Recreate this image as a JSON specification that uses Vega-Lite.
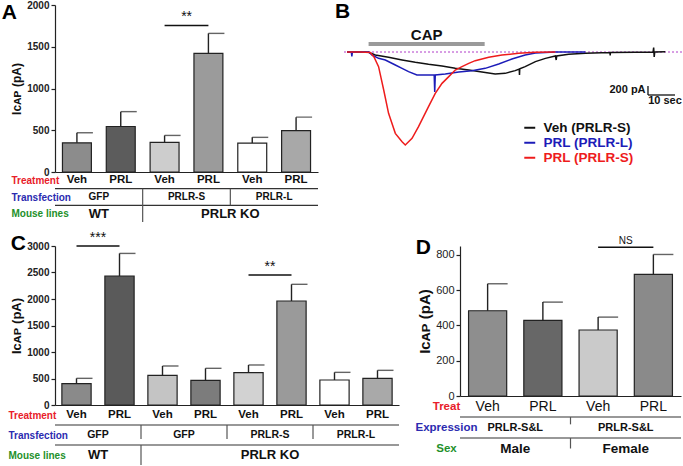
{
  "$schema": "https://vega.github.io/schema/vega-lite/v6.json",
  "background": "white",
  "padding": {"left": 1, "top": 0, "right": 0, "bottom": 0},
  "config": {
    "view": {"stroke": null},
    "font": "Liberation Sans",
    "axis": {"grid": false, "domainColor": "#222", "tickColor": "#222", "labelColor": "#222", "titleColor": "#111", "labelFontWeight": "bold", "labelFontSize": 10, "titleFontWeight": "bold", "domainWidth": 1.2, "tickWidth": 1.2, "labelOverlap": false},
    "title": {"font": "Liberation Sans", "fontWeight": "bold", "fontSize": 21, "color": "#000"}
  },
  "resolve": {"scale": {"color": "independent"}, "legend": {"color": "independent"}},
  "spacing": 8,
  "vconcat": [
    {
      "spacing": 16,
      "resolve": {"scale": {"color": "independent"}, "legend": {"color": "independent"}},
      "hconcat": [
        {
          "bounds": "flush",
          "spacing": 0,
          "resolve": {"scale": {"color": "independent"}},
          "vconcat": [
            {
              "width": 263,
              "height": 167,
              "title": {"text": "A", "anchor": "start", "frame": "bounds", "offset": -23, "dx": -9},
              "layer": [
                {
                  "data": {"values": [
                    {"key": "A1", "mean": 350, "upper": 470},
                    {"key": "A2", "mean": 545, "upper": 723},
                    {"key": "A3", "mean": 355, "upper": 438},
                    {"key": "A4", "mean": 1420, "upper": 1660},
                    {"key": "A5", "mean": 347, "upper": 415},
                    {"key": "A6", "mean": 495, "upper": 657}
                  ]},
                  "layer": [
                    {
                      "mark": {"type": "bar", "stroke": "#222", "strokeWidth": 1.2},
                      "encoding": {
                        "x": {"field": "key", "type": "nominal", "sort": null, "scale": {"domain": ["A1", "A2", "A3", "A4", "A5", "A6"], "paddingInner": 0.34, "paddingOuter": 0.17}, "axis": {"labels": false, "ticks": false, "title": null}},
                        "y": {"field": "mean", "type": "quantitative", "scale": {"domain": [0, 2000], "nice": false}, "axis": {"values": [0, 500, 1000, 1500, 2000], "tickCount": 20, "format": "d", "title": "Iᴄᴀᴘ (pA)", "titleFontSize": 12, "tickSize": 4, "labelPadding": 2, "titlePadding": 3}},
                        "color": {"field": "key", "type": "nominal", "scale": {"domain": ["A1", "A2", "A3", "A4", "A5", "A6"], "range": ["#8c8c8c", "#5c5c5c", "#cdcdcd", "#9b9b9b", "#ffffff", "#a8a8a8"]}, "legend": null}
                      }
                    },
                    {
                      "mark": {"type": "rule", "color": "#222", "strokeWidth": 1.4},
                      "encoding": {"x": {"field": "key", "type": "nominal", "sort": null}, "y": {"field": "mean", "type": "quantitative"}, "y2": {"field": "upper"}}
                    },
                    {
                      "mark": {"type": "tick", "color": "#222", "thickness": 1.4, "size": 16, "xOffset": 8},
                      "encoding": {"x": {"field": "key", "type": "nominal", "sort": null}, "y": {"field": "upper", "type": "quantitative"}}
                    }
                  ]
                },
                {
                  "data": {"values": [{"a": "A3", "b": "A4", "y": 1755, "label": "**"}]},
                  "layer": [
                    {"mark": {"type": "rule", "color": "#111", "strokeWidth": 1.6}, "encoding": {"x": {"field": "a", "type": "nominal"}, "x2": {"field": "b"}, "y": {"field": "y", "type": "quantitative"}}},
                    {"mark": {"type": "text", "baseline": "bottom", "dy": -1, "dx": 22, "fontSize": 14, "color": "#111"}, "encoding": {"x": {"field": "a", "type": "nominal"}, "y": {"field": "y", "type": "quantitative"}, "text": {"field": "label"}}}
                  ]
                }
              ]
            },
            {
              "width": 263,
              "height": 50,
              "layer": [
                {
                  "data": {"values": [
                    {"level": "Treatment", "col": 0.5, "row": 0.5, "label": "Veh"},
                    {"level": "Treatment", "col": 1.5, "row": 0.5, "label": "PRL"},
                    {"level": "Treatment", "col": 2.5, "row": 0.5, "label": "Veh"},
                    {"level": "Treatment", "col": 3.5, "row": 0.5, "label": "PRL"},
                    {"level": "Treatment", "col": 4.5, "row": 0.5, "label": "Veh"},
                    {"level": "Treatment", "col": 5.5, "row": 0.5, "label": "PRL"},
                    {"level": "Transfection", "col": 1, "row": 1.5, "label": "GFP"},
                    {"level": "Transfection", "col": 3, "row": 1.5, "label": "PRLR-S"},
                    {"level": "Transfection", "col": 5, "row": 1.5, "label": "PRLR-L"},
                    {"level": "Mouse lines", "col": 1, "row": 2.5, "label": "WT"},
                    {"level": "Mouse lines", "col": 4, "row": 2.5, "label": "PRLR KO"}
                  ]},
                  "layer": [
                    {
                      "transform": [{"filter": "datum.level == 'Treatment'"}],
                      "mark": {"type": "text", "fontSize": 11.5, "fontWeight": "bold", "color": "#111", "baseline": "middle"},
                      "encoding": {
                        "x": {"field": "col", "type": "quantitative", "scale": {"domain": [0, 6], "nice": false}, "axis": null},
                        "y": {"field": "row", "type": "quantitative", "scale": {"domain": [0, 3], "nice": false, "reverse": true}, "axis": {"values": [0.5, 1.5, 2.5], "tickCount": 20, "labelExpr": "datum.value < 1 ? 'Treatment' : datum.value < 2 ? 'Transfection' : 'Mouse lines'", "domain": false, "ticks": false, "tickSize": 0, "title": null, "labelAlign": "left", "labelBaseline": "middle", "labelPadding": 44, "labelFontSize": 10, "labelBound": false, "labelFlush": false, "labelColor": {"expr": "datum.value < 1 ? '#e8202a' : datum.value < 2 ? '#2b2bb0' : '#23902a'"}}},
                        "text": {"field": "label"}
                      }
                    },
                    {
                      "transform": [{"filter": "datum.level == 'Transfection'"}],
                      "mark": {"type": "text", "fontSize": 10, "fontWeight": "bold", "color": "#111", "baseline": "middle"},
                      "encoding": {"x": {"field": "col", "type": "quantitative"}, "y": {"field": "row", "type": "quantitative"}, "text": {"field": "label"}}
                    },
                    {
                      "transform": [{"filter": "datum.level == 'Mouse lines'"}],
                      "mark": {"type": "text", "fontSize": 13, "fontWeight": "bold", "color": "#111", "baseline": "middle"},
                      "encoding": {"x": {"field": "col", "type": "quantitative"}, "y": {"field": "row", "type": "quantitative"}, "text": {"field": "label"}}
                    }
                  ]
                },
                {
                  "data": {"values": [{"row": 1}, {"row": 2}]},
                  "mark": {"type": "rule", "color": "#333", "strokeWidth": 1.2},
                  "encoding": {"y": {"field": "row", "type": "quantitative"}}
                },
                {
                  "data": {"values": [{"col": 2, "row": 1, "row2": 3}, {"col": 4, "row": 1, "row2": 2}]},
                  "mark": {"type": "rule", "color": "#555", "strokeWidth": 1.2},
                  "encoding": {"x": {"field": "col", "type": "quantitative"}, "y": {"field": "row", "type": "quantitative"}, "y2": {"field": "row2"}}
                }
              ]
            }
          ]
        },
        {
          "width": 340,
          "height": 160,
          "title": {"text": "B", "anchor": "start", "frame": "group", "offset": -17, "dx": -7},
          "layer": [
            {
              "data": {"values": [{"v": 0}]},
              "mark": {"type": "rule", "color": "#b03cc8", "strokeDash": [2, 2], "strokeWidth": 1},
              "encoding": {"y": {"field": "v", "type": "quantitative", "scale": {"domain": [-2260, 940], "nice": false}, "axis": null}}
            },
            {
              "data": {"values": [
                {"series": "Veh (PRLR-S)", "t": 0, "v": 0},
                {"series": "Veh (PRLR-S)", "t": 4, "v": 0},
                {"series": "Veh (PRLR-S)", "t": 8, "v": -5},
                {"series": "Veh (PRLR-S)", "t": 10.5, "v": -60},
                {"series": "Veh (PRLR-S)", "t": 15.4, "v": -107},
                {"series": "Veh (PRLR-S)", "t": 20.4, "v": -160},
                {"series": "Veh (PRLR-S)", "t": 25.3, "v": -207},
                {"series": "Veh (PRLR-S)", "t": 30.2, "v": -247},
                {"series": "Veh (PRLR-S)", "t": 35.2, "v": -280},
                {"series": "Veh (PRLR-S)", "t": 40.1, "v": -327},
                {"series": "Veh (PRLR-S)", "t": 45.1, "v": -360},
                {"series": "Veh (PRLR-S)", "t": 50, "v": -400},
                {"series": "Veh (PRLR-S)", "t": 54.9, "v": -440},
                {"series": "Veh (PRLR-S)", "t": 58.6, "v": -427},
                {"series": "Veh (PRLR-S)", "t": 62.3, "v": -373},
                {"series": "Veh (PRLR-S)", "t": 63.8, "v": -340},
                {"series": "Veh (PRLR-S)", "t": 63.9, "v": -460},
                {"series": "Veh (PRLR-S)", "t": 64.0, "v": -335},
                {"series": "Veh (PRLR-S)", "t": 66, "v": -293},
                {"series": "Veh (PRLR-S)", "t": 69.8, "v": -193},
                {"series": "Veh (PRLR-S)", "t": 73.5, "v": -127},
                {"series": "Veh (PRLR-S)", "t": 77.2, "v": -80},
                {"series": "Veh (PRLR-S)", "t": 77.5, "v": -160},
                {"series": "Veh (PRLR-S)", "t": 77.7, "v": -78},
                {"series": "Veh (PRLR-S)", "t": 82.1, "v": -47},
                {"series": "Veh (PRLR-S)", "t": 88.3, "v": -27},
                {"series": "Veh (PRLR-S)", "t": 94.4, "v": -13},
                {"series": "Veh (PRLR-S)", "t": 97.4, "v": -10},
                {"series": "Veh (PRLR-S)", "t": 97.5, "v": -70},
                {"series": "Veh (PRLR-S)", "t": 97.6, "v": -10},
                {"series": "Veh (PRLR-S)", "t": 106.8, "v": -7},
                {"series": "Veh (PRLR-S)", "t": 113.4, "v": -3},
                {"series": "Veh (PRLR-S)", "t": 113.6, "v": 90},
                {"series": "Veh (PRLR-S)", "t": 113.8, "v": -100},
                {"series": "Veh (PRLR-S)", "t": 114, "v": 0},
                {"series": "Veh (PRLR-S)", "t": 117.9, "v": 7},
                {"series": "PRL (PRLR-L)", "t": 0, "v": 0},
                {"series": "PRL (PRLR-L)", "t": 1.6, "v": 0},
                {"series": "PRL (PRLR-L)", "t": 1.8, "v": -90},
                {"series": "PRL (PRLR-L)", "t": 2.0, "v": 0},
                {"series": "PRL (PRLR-L)", "t": 8, "v": 0},
                {"series": "PRL (PRLR-L)", "t": 9.3, "v": -60},
                {"series": "PRL (PRLR-L)", "t": 11.7, "v": -127},
                {"series": "PRL (PRLR-L)", "t": 14.2, "v": -160},
                {"series": "PRL (PRLR-L)", "t": 17.9, "v": -260},
                {"series": "PRL (PRLR-L)", "t": 20.4, "v": -327},
                {"series": "PRL (PRLR-L)", "t": 22.8, "v": -393},
                {"series": "PRL (PRLR-L)", "t": 25.9, "v": -460},
                {"series": "PRL (PRLR-L)", "t": 29, "v": -460},
                {"series": "PRL (PRLR-L)", "t": 32.3, "v": -460},
                {"series": "PRL (PRLR-L)", "t": 32.5, "v": -800},
                {"series": "PRL (PRLR-L)", "t": 32.7, "v": -460},
                {"series": "PRL (PRLR-L)", "t": 36.4, "v": -440},
                {"series": "PRL (PRLR-L)", "t": 41.4, "v": -400},
                {"series": "PRL (PRLR-L)", "t": 46.3, "v": -373},
                {"series": "PRL (PRLR-L)", "t": 51.2, "v": -327},
                {"series": "PRL (PRLR-L)", "t": 56.2, "v": -240},
                {"series": "PRL (PRLR-L)", "t": 61.1, "v": -140},
                {"series": "PRL (PRLR-L)", "t": 66, "v": -60},
                {"series": "PRL (PRLR-L)", "t": 69.8, "v": -20},
                {"series": "PRL (PRLR-L)", "t": 77.2, "v": 0},
                {"series": "PRL (PRLR-L)", "t": 88.3, "v": 0},
                {"series": "PRL (PRLR-S)", "t": 0, "v": 0},
                {"series": "PRL (PRLR-S)", "t": 5, "v": 0},
                {"series": "PRL (PRLR-S)", "t": 8.6, "v": -10},
                {"series": "PRL (PRLR-S)", "t": 10, "v": -100},
                {"series": "PRL (PRLR-S)", "t": 11.7, "v": -293},
                {"series": "PRL (PRLR-S)", "t": 13.6, "v": -760},
                {"series": "PRL (PRLR-S)", "t": 15.4, "v": -1227},
                {"series": "PRL (PRLR-S)", "t": 17.9, "v": -1627},
                {"series": "PRL (PRLR-S)", "t": 20.4, "v": -1793},
                {"series": "PRL (PRLR-S)", "t": 21.6, "v": -1860},
                {"series": "PRL (PRLR-S)", "t": 24.1, "v": -1727},
                {"series": "PRL (PRLR-S)", "t": 26.5, "v": -1493},
                {"series": "PRL (PRLR-S)", "t": 30.2, "v": -1093},
                {"series": "PRL (PRLR-S)", "t": 32.7, "v": -827},
                {"series": "PRL (PRLR-S)", "t": 35.2, "v": -627},
                {"series": "PRL (PRLR-S)", "t": 37.7, "v": -493},
                {"series": "PRL (PRLR-S)", "t": 40.1, "v": -360},
                {"series": "PRL (PRLR-S)", "t": 42.6, "v": -293},
                {"series": "PRL (PRLR-S)", "t": 45.1, "v": -227},
                {"series": "PRL (PRLR-S)", "t": 47.5, "v": -173},
                {"series": "PRL (PRLR-S)", "t": 52.5, "v": -107},
                {"series": "PRL (PRLR-S)", "t": 57.4, "v": -60},
                {"series": "PRL (PRLR-S)", "t": 63.6, "v": -27},
                {"series": "PRL (PRLR-S)", "t": 69.8, "v": -7},
                {"series": "PRL (PRLR-S)", "t": 77.2, "v": 0}
              ]},
              "mark": {"type": "line", "strokeWidth": 1.5},
              "encoding": {
                "x": {"field": "t", "type": "quantitative", "scale": {"domain": [-1.85, 124.1], "nice": false}, "axis": null},
                "y": {"field": "v", "type": "quantitative", "axis": null},
                "color": {"field": "series", "type": "nominal", "scale": {"domain": ["Veh (PRLR-S)", "PRL (PRLR-L)", "PRL (PRLR-S)"], "range": ["#111111", "#1c1cb8", "#ee1c1c"]},
                  "legend": {"orient": "none", "legendX": 181, "legendY": 116, "title": null, "symbolType": "stroke", "symbolStrokeWidth": 2, "symbolSize": 120, "labelFontSize": 13.5, "labelFontWeight": "bold", "labelFont": "Liberation Sans", "rowPadding": 0, "labelOffset": 7,
                    "encode": {"labels": {"update": {"fill": {"signal": "datum.label == 'Veh (PRLR-S)' ? '#111111' : datum.label == 'PRL (PRLR-L)' ? '#1c1cb8' : '#ee1c1c'"}}}}}}
              }
            },
            {
              "data": {"values": [{"t": 8, "t2": 51, "v": 160}]},
              "mark": {"type": "rule", "color": "#9a9a9a", "strokeWidth": 4},
              "encoding": {"x": {"field": "t", "type": "quantitative"}, "x2": {"field": "t2"}, "y": {"field": "v", "type": "quantitative"}}
            },
            {
              "data": {"values": [{"t": 29.5, "v": 340, "label": "CAP"}]},
              "mark": {"type": "text", "fontSize": 15, "fontWeight": "bold", "color": "#111", "baseline": "middle"},
              "encoding": {"x": {"field": "t", "type": "quantitative"}, "y": {"field": "v", "type": "quantitative"}, "text": {"field": "label"}}
            },
            {
              "data": {"values": [{"t": 111.5, "t2": 111.5, "v": -680, "v2": -860}, {"t": 111.5, "t2": 121.5, "v": -860, "v2": -860}]},
              "mark": {"type": "rule", "color": "#111", "strokeWidth": 1.3},
              "encoding": {"x": {"field": "t", "type": "quantitative"}, "x2": {"field": "t2"}, "y": {"field": "v", "type": "quantitative"}, "y2": {"field": "v2"}}
            },
            {
              "data": {"values": [{"t": 110.6, "v": -750, "label": "200 pA"}]},
              "mark": {"type": "text", "fontSize": 11, "fontWeight": "bold", "color": "#111", "align": "right", "baseline": "middle"},
              "encoding": {"x": {"field": "t", "type": "quantitative"}, "y": {"field": "v", "type": "quantitative"}, "text": {"field": "label"}}
            },
            {
              "data": {"values": [{"t": 117.8, "v": -980, "label": "10 sec"}]},
              "mark": {"type": "text", "fontSize": 11, "fontWeight": "bold", "color": "#111", "align": "center", "baseline": "middle"},
              "encoding": {"x": {"field": "t", "type": "quantitative"}, "y": {"field": "v", "type": "quantitative"}, "text": {"field": "label"}}
            }
          ]
        }
      ]
    },
    {
      "spacing": 15,
      "resolve": {"scale": {"color": "independent"}, "legend": {"color": "independent"}},
      "hconcat": [
        {
          "bounds": "flush",
          "spacing": 0,
          "resolve": {"scale": {"color": "independent"}},
          "vconcat": [
            {
              "width": 344,
              "height": 159,
              "title": {"text": "C", "anchor": "start", "frame": "bounds", "offset": -23, "dx": 0},
              "layer": [
                {
                  "data": {"values": [
                    {"key": "C1", "mean": 403, "upper": 503},
                    {"key": "C2", "mean": 2434, "upper": 2860},
                    {"key": "C3", "mean": 560, "upper": 736},
                    {"key": "C4", "mean": 465, "upper": 692},
                    {"key": "C5", "mean": 610, "upper": 755},
                    {"key": "C6", "mean": 1962, "upper": 2277},
                    {"key": "C7", "mean": 472, "upper": 616},
                    {"key": "C8", "mean": 503, "upper": 654}
                  ]},
                  "layer": [
                    {
                      "mark": {"type": "bar", "stroke": "#222", "strokeWidth": 1.2},
                      "encoding": {
                        "x": {"field": "key", "type": "nominal", "sort": null, "scale": {"domain": ["C1", "C2", "C3", "C4", "C5", "C6", "C7", "C8"], "paddingInner": 0.32, "paddingOuter": 0.16}, "axis": {"labels": false, "ticks": false, "title": null}},
                        "y": {"field": "mean", "type": "quantitative", "scale": {"domain": [0, 3000], "nice": false}, "axis": {"values": [0, 500, 1000, 1500, 2000, 2500, 3000], "tickCount": 20, "format": "d", "title": "Iᴄᴀᴘ (pA)", "titleFontSize": 13, "tickSize": 4, "labelPadding": 2, "titlePadding": 3}},
                        "color": {"field": "key", "type": "nominal", "scale": {"domain": ["C1", "C2", "C3", "C4", "C5", "C6", "C7", "C8"], "range": ["#8a8a8a", "#5a5a5a", "#c4c4c4", "#7c7c7c", "#d2d2d2", "#9a9a9a", "#ffffff", "#a9a9a9"]}, "legend": null}
                      }
                    },
                    {
                      "mark": {"type": "rule", "color": "#222", "strokeWidth": 1.4},
                      "encoding": {"x": {"field": "key", "type": "nominal", "sort": null}, "y": {"field": "mean", "type": "quantitative"}, "y2": {"field": "upper"}}
                    },
                    {
                      "mark": {"type": "tick", "color": "#222", "thickness": 1.4, "size": 16, "xOffset": 8},
                      "encoding": {"x": {"field": "key", "type": "nominal", "sort": null}, "y": {"field": "upper", "type": "quantitative"}}
                    }
                  ]
                },
                {
                  "data": {"values": [{"a": "C1", "b": "C2", "y": 3000, "label": "***"}, {"a": "C5", "b": "C6", "y": 2453, "label": "**"}]},
                  "layer": [
                    {"mark": {"type": "rule", "color": "#111", "strokeWidth": 1.6}, "encoding": {"x": {"field": "a", "type": "nominal"}, "x2": {"field": "b"}, "y": {"field": "y", "type": "quantitative"}}},
                    {"mark": {"type": "text", "baseline": "bottom", "dy": -1, "dx": 21.5, "fontSize": 14, "color": "#111"}, "encoding": {"x": {"field": "a", "type": "nominal"}, "y": {"field": "y", "type": "quantitative"}, "text": {"field": "label"}}}
                  ]
                }
              ]
            },
            {
              "width": 344,
              "height": 60,
              "layer": [
                {
                  "data": {"values": [
                    {"level": "Treatment", "col": 0.5, "row": 0.5, "label": "Veh"},
                    {"level": "Treatment", "col": 1.5, "row": 0.5, "label": "PRL"},
                    {"level": "Treatment", "col": 2.5, "row": 0.5, "label": "Veh"},
                    {"level": "Treatment", "col": 3.5, "row": 0.5, "label": "PRL"},
                    {"level": "Treatment", "col": 4.5, "row": 0.5, "label": "Veh"},
                    {"level": "Treatment", "col": 5.5, "row": 0.5, "label": "PRL"},
                    {"level": "Treatment", "col": 6.5, "row": 0.5, "label": "Veh"},
                    {"level": "Treatment", "col": 7.5, "row": 0.5, "label": "PRL"},
                    {"level": "Transfection", "col": 1, "row": 1.5, "label": "GFP"},
                    {"level": "Transfection", "col": 3, "row": 1.5, "label": "GFP"},
                    {"level": "Transfection", "col": 5, "row": 1.5, "label": "PRLR-S"},
                    {"level": "Transfection", "col": 7, "row": 1.5, "label": "PRLR-L"},
                    {"level": "Mouse lines", "col": 1, "row": 2.5, "label": "WT"},
                    {"level": "Mouse lines", "col": 5, "row": 2.5, "label": "PRLR KO"}
                  ]},
                  "layer": [
                    {
                      "transform": [{"filter": "datum.level == 'Treatment'"}],
                      "mark": {"type": "text", "fontSize": 11.5, "fontWeight": "bold", "color": "#111", "baseline": "middle"},
                      "encoding": {
                        "x": {"field": "col", "type": "quantitative", "scale": {"domain": [0, 8], "nice": false}, "axis": null},
                        "y": {"field": "row", "type": "quantitative", "scale": {"domain": [0, 3], "nice": false, "reverse": true}, "axis": {"values": [0.5, 1.5, 2.5], "tickCount": 20, "labelExpr": "datum.value < 1 ? 'Treatment' : datum.value < 2 ? 'Transfection' : 'Mouse lines'", "domain": false, "ticks": false, "tickSize": 0, "title": null, "labelAlign": "left", "labelBaseline": "middle", "labelPadding": 47, "labelFontSize": 10, "labelBound": false, "labelFlush": false, "labelColor": {"expr": "datum.value < 1 ? '#e8202a' : datum.value < 2 ? '#2b2bb0' : '#23902a'"}}},
                        "text": {"field": "label"}
                      }
                    },
                    {
                      "transform": [{"filter": "datum.level == 'Transfection'"}],
                      "mark": {"type": "text", "fontSize": 10.5, "fontWeight": "bold", "color": "#111", "baseline": "middle"},
                      "encoding": {"x": {"field": "col", "type": "quantitative"}, "y": {"field": "row", "type": "quantitative"}, "text": {"field": "label"}}
                    },
                    {
                      "transform": [{"filter": "datum.level == 'Mouse lines'"}],
                      "mark": {"type": "text", "fontSize": 13, "fontWeight": "bold", "color": "#111", "baseline": "middle"},
                      "encoding": {"x": {"field": "col", "type": "quantitative"}, "y": {"field": "row", "type": "quantitative"}, "text": {"field": "label"}}
                    }
                  ]
                },
                {
                  "data": {"values": [{"row": 1}, {"row": 2}]},
                  "mark": {"type": "rule", "color": "#333", "strokeWidth": 1.2},
                  "encoding": {"y": {"field": "row", "type": "quantitative"}}
                },
                {
                  "data": {"values": [{"col": 2, "row": 1, "row2": 1.7}, {"col": 2, "row": 2, "row2": 3}, {"col": 4, "row": 1, "row2": 1.7}, {"col": 6, "row": 1, "row2": 1.7}]},
                  "mark": {"type": "rule", "color": "#555", "strokeWidth": 1.2},
                  "encoding": {"x": {"field": "col", "type": "quantitative"}, "y": {"field": "row", "type": "quantitative"}, "y2": {"field": "row2"}}
                }
              ]
            }
          ]
        },
        {
          "bounds": "flush",
          "spacing": 0,
          "resolve": {"scale": {"color": "independent"}},
          "vconcat": [
            {
              "width": 221,
              "height": 150,
              "title": {"text": "D", "anchor": "start", "frame": "bounds", "offset": -22, "dx": -2},
              "layer": [
                {
                  "data": {"values": [
                    {"key": "D1", "mean": 483, "upper": 636},
                    {"key": "D2", "mean": 428, "upper": 532},
                    {"key": "D3", "mean": 374, "upper": 447},
                    {"key": "D4", "mean": 689, "upper": 802}
                  ]},
                  "layer": [
                    {
                      "mark": {"type": "bar", "stroke": "#222", "strokeWidth": 1.2},
                      "encoding": {
                        "x": {"field": "key", "type": "nominal", "sort": null, "scale": {"domain": ["D1", "D2", "D3", "D4"], "paddingInner": 0.31, "paddingOuter": 0.155}, "axis": {"labels": false, "ticks": false, "title": null}},
                        "y": {"field": "mean", "type": "quantitative", "scale": {"domain": [0, 850], "nice": false}, "axis": {"values": [0, 200, 400, 600, 800], "tickCount": 20, "title": "Iᴄᴀᴘ (pA)", "titleFontSize": 15, "labelFontWeight": "normal", "labelFontSize": 11, "tickSize": 4, "labelPadding": 2, "titlePadding": 3}},
                        "color": {"field": "key", "type": "nominal", "scale": {"domain": ["D1", "D2", "D3", "D4"], "range": ["#8e8e8e", "#676767", "#cacaca", "#8a8a8a"]}, "legend": null}
                      }
                    },
                    {
                      "mark": {"type": "rule", "color": "#222", "strokeWidth": 1.4},
                      "encoding": {"x": {"field": "key", "type": "nominal", "sort": null}, "y": {"field": "mean", "type": "quantitative"}, "y2": {"field": "upper"}}
                    },
                    {
                      "mark": {"type": "tick", "color": "#222", "thickness": 1.4, "size": 20, "xOffset": 10},
                      "encoding": {"x": {"field": "key", "type": "nominal", "sort": null}, "y": {"field": "upper", "type": "quantitative"}}
                    }
                  ]
                },
                {
                  "data": {"values": [{"a": "D3", "b": "D4", "y": 843, "label": "NS"}]},
                  "layer": [
                    {"mark": {"type": "rule", "color": "#111", "strokeWidth": 1.4}, "encoding": {"x": {"field": "a", "type": "nominal"}, "x2": {"field": "b"}, "y": {"field": "y", "type": "quantitative"}}},
                    {"mark": {"type": "text", "baseline": "bottom", "dy": -1, "dx": 27.6, "fontSize": 10, "color": "#111"}, "encoding": {"x": {"field": "a", "type": "nominal"}, "y": {"field": "y", "type": "quantitative"}, "text": {"field": "label"}}}
                  ]
                }
              ]
            },
            {
              "width": 221,
              "height": 63,
              "layer": [
                {
                  "data": {"values": [
                    {"level": "Treat", "col": 0.5, "row": 0.5, "label": "Veh"},
                    {"level": "Treat", "col": 1.5, "row": 0.5, "label": "PRL"},
                    {"level": "Treat", "col": 2.5, "row": 0.5, "label": "Veh"},
                    {"level": "Treat", "col": 3.5, "row": 0.5, "label": "PRL"},
                    {"level": "Expression", "col": 1, "row": 1.5, "label": "PRLR-S&L"},
                    {"level": "Expression", "col": 3, "row": 1.5, "label": "PRLR-S&L"},
                    {"level": "Sex", "col": 1, "row": 2.5, "label": "Male"},
                    {"level": "Sex", "col": 3, "row": 2.5, "label": "Female"}
                  ]},
                  "layer": [
                    {
                      "transform": [{"filter": "datum.level == 'Treat'"}],
                      "mark": {"type": "text", "fontSize": 14, "color": "#111", "baseline": "middle"},
                      "encoding": {
                        "x": {"field": "col", "type": "quantitative", "scale": {"domain": [0, 4], "nice": false}, "axis": null},
                        "y": {"field": "row", "type": "quantitative", "scale": {"domain": [0, 3], "nice": false, "reverse": true}, "axis": {"values": [0.5, 1.5, 2.5], "tickCount": 20, "labelExpr": "datum.value < 1 ? 'Treat' : datum.value < 2 ? 'Expression' : 'Sex'", "domain": false, "ticks": false, "tickSize": 0, "title": null, "labelAlign": "center", "labelBaseline": "middle", "labelPadding": 14, "labelFontSize": 11.5, "labelBound": false, "labelFlush": false, "labelColor": {"expr": "datum.value < 1 ? '#e8202a' : datum.value < 2 ? '#2b2bb0' : '#23902a'"}}},
                        "text": {"field": "label"}
                      }
                    },
                    {
                      "transform": [{"filter": "datum.level == 'Expression'"}],
                      "mark": {"type": "text", "fontSize": 11, "fontWeight": "bold", "color": "#111", "baseline": "middle"},
                      "encoding": {"x": {"field": "col", "type": "quantitative"}, "y": {"field": "row", "type": "quantitative"}, "text": {"field": "label"}}
                    },
                    {
                      "transform": [{"filter": "datum.level == 'Sex'"}],
                      "mark": {"type": "text", "fontSize": 13.5, "fontWeight": "bold", "color": "#111", "baseline": "middle"},
                      "encoding": {"x": {"field": "col", "type": "quantitative"}, "y": {"field": "row", "type": "quantitative"}, "text": {"field": "label"}}
                    }
                  ]
                },
                {
                  "data": {"values": [{"row": 1}, {"row": 2}]},
                  "mark": {"type": "rule", "color": "#333", "strokeWidth": 1.2},
                  "encoding": {"y": {"field": "row", "type": "quantitative"}}
                },
                {
                  "data": {"values": [{"col": 2, "row": 1, "row2": 1.35}, {"col": 2, "row": 2, "row2": 2.5}]},
                  "mark": {"type": "rule", "color": "#555", "strokeWidth": 1.2},
                  "encoding": {"x": {"field": "col", "type": "quantitative"}, "y": {"field": "row", "type": "quantitative"}, "y2": {"field": "row2"}}
                }
              ]
            }
          ]
        }
      ]
    }
  ]
}
